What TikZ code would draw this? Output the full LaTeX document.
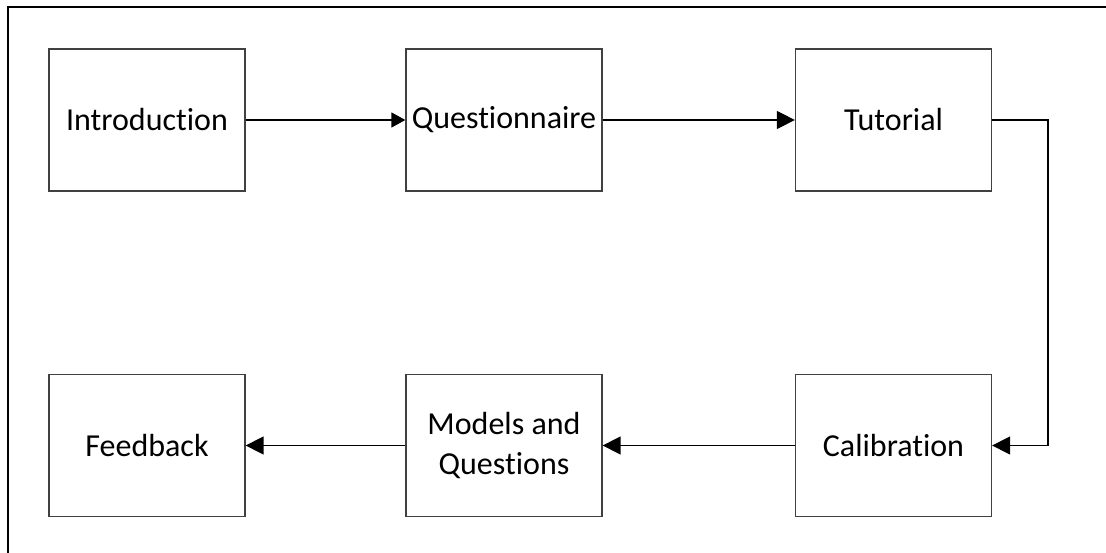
\documentclass[tikz,border=0pt]{standalone}
\usepackage{fontspec}
\setmainfont{Carlito}[Ligatures=NoCommon]
\usetikzlibrary{arrows.meta}
\begin{document}
\begin{tikzpicture}[x=1pt,y=-1pt,
  stage/.style={draw=black!75, line width=1.3pt, minimum width=196pt, minimum height=142pt,
    inner sep=0pt, align=center, font=\fontsize{32}{40}\selectfont},
  flow/.style={line width=1.5pt, -{Triangle[length=18pt,width=18pt]}},
  frame/.style={line width=2pt}]
  \useasboundingbox (0,0) rectangle (1106,553);
  % partial outer frame
  \coordinate (ftl) at (8,7);
  \coordinate (ftr) at (1106,7);
  \coordinate (fbl) at (8,553);
  \draw[frame] (ftr) -- (ftl) -- (fbl);
  % process stages
  \node[stage] (intro) at (147,120) {Introduction};
  \node[stage] (quest) at (504,120) {Questionnaire};
  \node[stage] (tut) at (893.5,120) {Tutorial};
  \node[stage] (calib) at (893.5,445.5) {Calibration};
  \node[stage] (models) at (504,445.5) {Models and\\Questions};
  \node[stage] (feed) at (147,445.5) {Feedback};
  \coordinate (side) at (1048,0);
  % connectors
  \draw[line width=1.5pt, -{Triangle[length=14pt,width=15pt]}] (intro) -- (quest);
  \draw[flow] (quest) -- (tut);
  \draw[flow] (tut.east) -- (tut.east -| side) -- (calib.east -| side) -- (calib.east);
  \draw[flow] (calib) -- (models);
  \draw[flow] (models) -- (feed);
\end{tikzpicture}
\end{document}
